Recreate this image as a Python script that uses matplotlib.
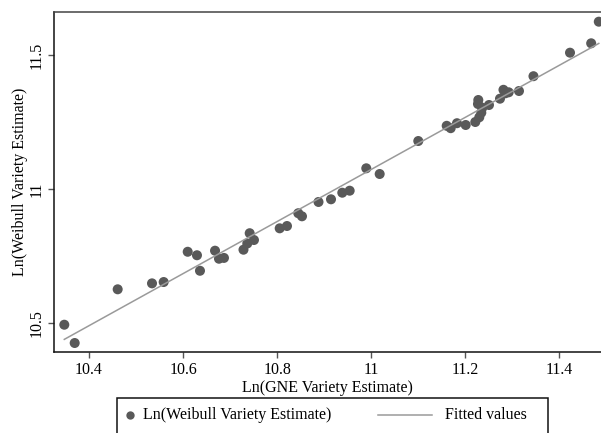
import matplotlib

matplotlib.use("Agg")
import matplotlib.pyplot as plt
import numpy as np
from matplotlib.lines import Line2D
from matplotlib.patches import Rectangle

plt.rcParams["font.family"] = ["Liberation Serif", "DejaVu Serif"]

# Ln(GNE variety estimate) vs Ln(Weibull variety estimate)
gne = [
    10.3475, 10.3696, 10.461, 10.534, 10.5588, 10.6099, 10.6296, 10.636, 10.668, 10.6764,
    10.687, 10.7285, 10.7366, 10.7417, 10.7508, 10.8055, 10.821, 10.845, 10.8529, 10.888,
    10.9146, 10.9386, 10.9543, 10.9896, 11.0181, 11.1002, 11.1606, 11.1691, 11.1825, 11.201,
    11.2214, 11.2299, 11.2342, 11.2363, 11.2271, 11.2278, 11.2505, 11.2739, 11.2813, 11.2852,
    11.2924, 11.3143, 11.3451, 11.4228, 11.4678, 11.484,
]
weibull = [
    10.4925, 10.4242, 10.6248, 10.647, 10.652, 10.765, 10.752, 10.694, 10.769, 10.739,
    10.742, 10.7727, 10.7959, 10.8343, 10.8089, 10.8526, 10.8612, 10.909, 10.8975, 10.951,
    10.961, 10.9856, 10.9931, 11.0768, 11.0555, 11.1787, 11.2355, 11.2266, 11.2452, 11.2385,
    11.2497, 11.2673, 11.2845, 11.3031, 11.317, 11.3319, 11.3132, 11.3368, 11.37, 11.3569,
    11.3607, 11.3655, 11.4208, 11.5086, 11.5437, 11.6244,
]
x_ticks = [10.4, 10.6, 10.8, 11.0, 11.2, 11.4]
x_tick_labels = ["10.4", "10.6", "10.8", "11", "11.2", "11.4"]
y_ticks = [10.5, 11.0, 11.5]
y_tick_labels = ["10.5", "11", "11.5"]

W, H = 601, 433
fig = plt.figure(figsize=(W / 100, H / 100), dpi=100)
ax = fig.add_axes([54 / W, 81 / H, (W - 54) / W, 340 / H])

x = np.array(gne)
y = np.array(weibull)
slope, intercept = np.polyfit(x, y, 1)
xs = np.array([x.min(), x.max()])

ax.plot(xs, intercept + slope * xs, color="#9a9a9a", lw=1.1, zorder=3)
ax.scatter(x, y, s=52, color="#595959", edgecolors="none", zorder=2, clip_on=False)

ax.set_xlim(10.3256, 11.4887)
ax.set_ylim(10.3906, 11.6606)
ax.set_xticks(x_ticks, x_tick_labels)
ax.set_yticks(y_ticks, y_tick_labels)
ax.tick_params(axis="both", direction="out", length=4, width=1, color="#555555",
               labelsize=11.5, pad=3)
for lab in ax.get_yticklabels():
    lab.set_rotation(90)
    lab.set_va("center")
ax.spines["right"].set_visible(False)
ax.spines["top"].set_color("#444444")
ax.spines["left"].set_color("#111111")
ax.spines["bottom"].set_color("#111111")
for s in ax.spines.values():
    s.set_linewidth(1.1)

ax.set_xlabel("Ln(GNE Variety Estimate)", fontsize=11.5, labelpad=2)
ax.set_ylabel("Ln(Weibull Variety Estimate)", fontsize=11.5, labelpad=0.5)

# legend box drawn in figure pixels
def fx(px):
    return px / W


def fy(py):
    return 1 - py / H


fig.patches.append(Rectangle((fx(117), fy(434)), fx(548) - fx(117), fy(398) - fy(434),
                             transform=fig.transFigure, fill=False, edgecolor="#111111", lw=1.1))
ly = fy(415)
fig.lines.append(Line2D([fx(130)], [ly], marker="o", markersize=6, color="#595959",
                        markeredgewidth=0, transform=fig.transFigure))
fig.text(fx(143), ly, "Ln(Weibull Variety Estimate)", fontsize=11.5, va="center", ha="left")
fig.lines.append(Line2D([fx(378), fx(432)], [ly, ly], color="#9a9a9a", lw=1.1,
                        transform=fig.transFigure))
fig.text(fx(445), ly, "Fitted values", fontsize=11.5, va="center", ha="left")

fig.savefig("out.png", dpi=100)
